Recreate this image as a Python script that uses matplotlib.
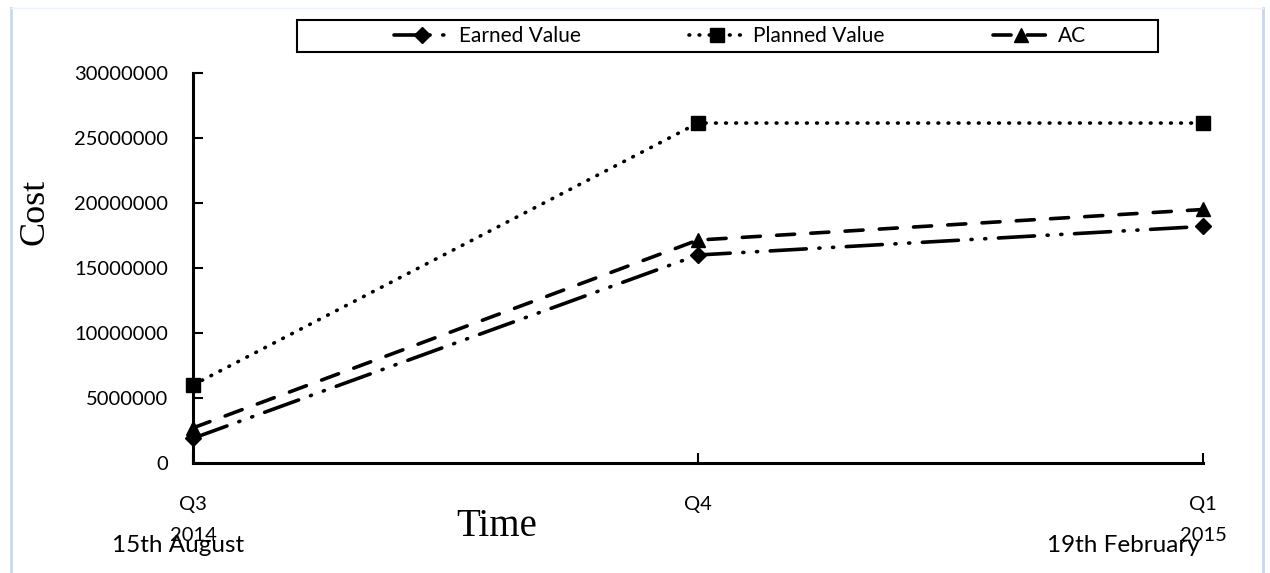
import matplotlib.pyplot as plt
from matplotlib.lines import Line2D
from matplotlib.patches import Rectangle

# quarters on the time axis
quarters = ["Q3\n2014", "Q4", "Q1\n2015"]
dates = ["15th August", "19th February"]

# cost values
earned_value = [1900000, 16000000, 18200000]
planned_value = [6000000, 26150000, 26150000]
actual_cost = [2700000, 17150000, 19500000]

yticks = [0, 5000000, 10000000, 15000000, 20000000, 25000000, 30000000]

plt.rcParams['font.family'] = ['Lato', 'DejaVu Sans']

W, H = 1270, 573
fig = plt.figure(figsize=(12.7, 5.73), dpi=100)
ax = fig.add_axes([193 / W, 1 - 463 / H, 1010 / W, 390 / H])

x = list(range(len(quarters)))
lw = 2.6

ev_line, = ax.plot(x, earned_value, color="black", lw=lw, marker="D", ms=8,
                   label="Earned Value", dash_capstyle="round", clip_on=False)
ev_line.set_dashes([10, 3.5, 0.3, 3.5, 0.3, 3.5])

pv_line, = ax.plot(x, planned_value, color="black", lw=lw, marker="s", ms=10,
                   label="Planned Value", dash_capstyle="round", clip_on=False)
pv_line.set_dashes([0.2, 2.6])

ac_line, = ax.plot(x, actual_cost, color="black", lw=lw, marker="^", ms=10,
                   label="AC", dash_capstyle="round", clip_on=False)
ac_line.set_dashes([5, 4.5])

ax.set_xlim(0, 2)
ax.set_ylim(0, 30000000)
ax.set_yticks(yticks)
ax.set_yticklabels([str(v) for v in yticks], fontsize=14.5)
ax.set_xticks(x)
ax.set_xticklabels(quarters, fontsize=14.5, linespacing=1.95)

for s in ["top", "right"]:
    ax.spines[s].set_visible(False)
for s in ["left", "bottom"]:
    ax.spines[s].set_linewidth(2.2)

ax.tick_params(axis="y", direction="in", length=7, width=1.5, pad=18)
ax.tick_params(axis="x", direction="in", length=7, width=1.5, pad=24)

fig.text(35 / W, 1 - 212 / H, "Cost", family="Liberation Serif", fontsize=26,
         rotation=90, ha="center", va="center")
fig.text(497 / W, 1 - 527 / H, "Time", family="Liberation Serif",
         fontsize=28, ha="center", va="center")

fig.text(178 / W, 1 - 545 / H, dates[0], fontsize=17.5, ha="center", va="center")
fig.text(1123 / W, 1 - 545 / H, dates[1], fontsize=17.5, ha="center", va="center")

# legend with its own box, as in the original
leg = fig.legend(handles=[ev_line, pv_line, ac_line], loc="center",
                 bbox_to_anchor=(740 / W, 1 - 36 / H),
                 ncol=3, fontsize=15, frameon=False,
                 handlelength=2.7, handletextpad=0.4, columnspacing=5.2)
fig.add_artist(Rectangle((297 / W, 1 - 52 / H), 861 / W, 32 / H, fill=False,
                         edgecolor="black", lw=1.5, transform=fig.transFigure))

# faint border of the embedded chart
border = "#c8d8ec"
fig.add_artist(Line2D([11 / W, 11 / W], [0, 1 - 8 / H], color=border, lw=2, transform=fig.transFigure))
fig.add_artist(Line2D([1263 / W, 1263 / W], [0, 1 - 8 / H], color=border, lw=2, transform=fig.transFigure))
fig.add_artist(Line2D([11 / W, 1263 / W], [1 - 8 / H, 1 - 8 / H], color="#eef3f9", lw=1, transform=fig.transFigure))

fig.savefig("out.png", dpi=100)
